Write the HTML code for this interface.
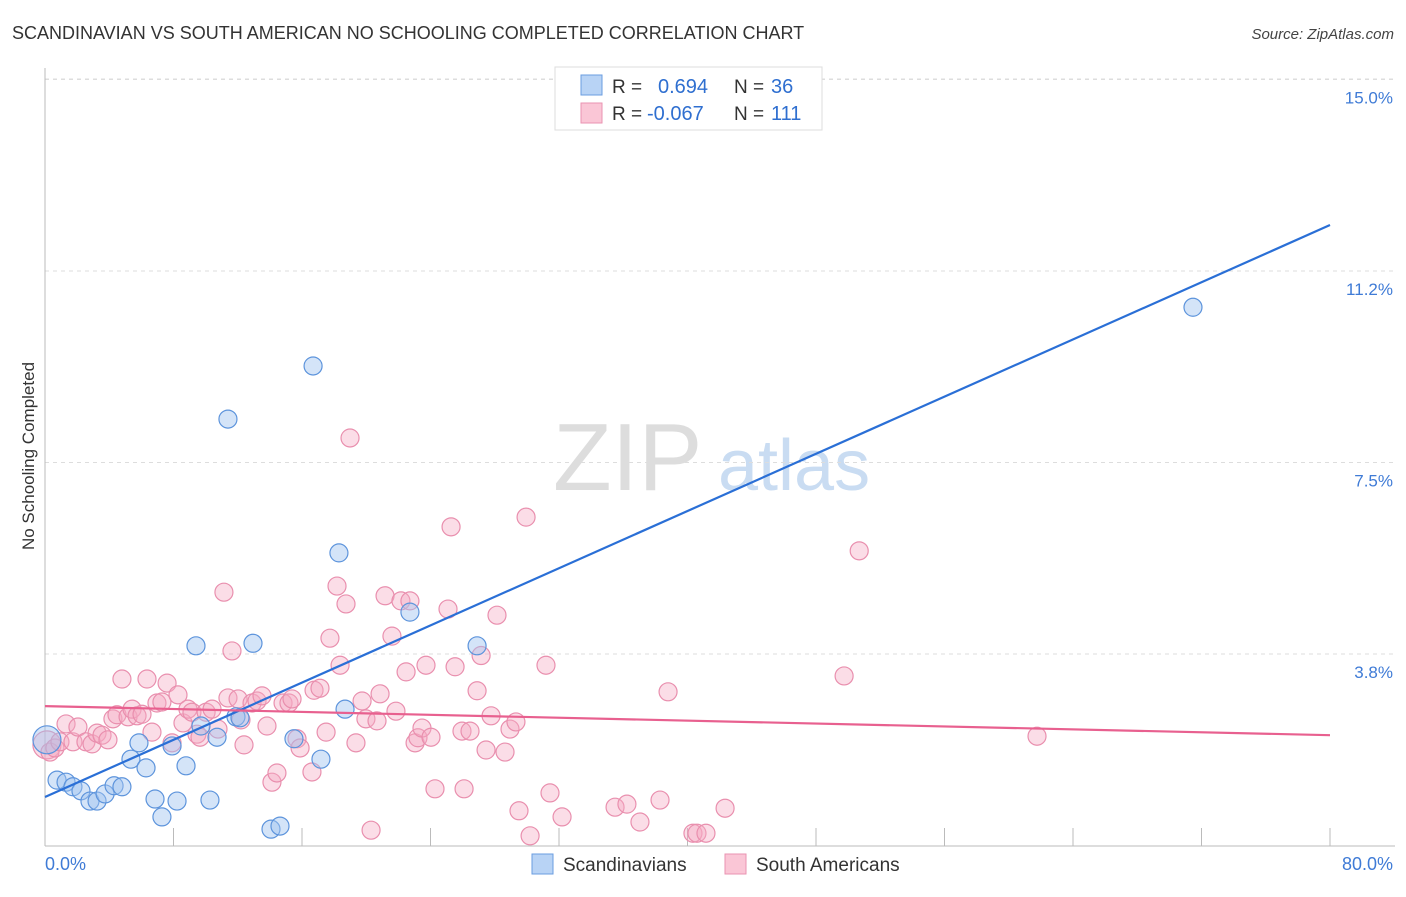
<!DOCTYPE html>
<html><head><meta charset="utf-8"><style>
body{margin:0;background:#fff;font-family:"Liberation Sans",sans-serif;}
svg text{font-family:"Liberation Sans",sans-serif;}
</style></head><body>
<svg id="chart" width="1406" height="892" xmlns="http://www.w3.org/2000/svg">
<text x="12" y="39" font-size="18" fill="#333">SCANDINAVIAN VS SOUTH AMERICAN NO SCHOOLING COMPLETED CORRELATION CHART</text>
<text x="1394" y="39" font-size="15" fill="#444" text-anchor="end" font-style="italic">Source: ZipAtlas.com</text>
<g>
<text x="553" y="490" font-size="96" font-family="Liberation Serif" fill="#ddd">ZIP</text>
<text x="718" y="490" font-size="72" fill="#c9dcf2">atlas</text>
</g>
<g id="grid"></g>
<g id="axes"></g>
<g id="marks"></g>
<text transform="translate(34,456) rotate(-90)" font-size="17" fill="#333" text-anchor="middle">No Schooling Completed</text>
<g>
<rect x="555" y="67" width="267" height="63" fill="#fff" stroke="#ddd"/>
<rect x="581" y="75" width="21" height="20" fill="#b8d3f5" stroke="#6a9de0"/>
<rect x="581" y="103" width="21" height="20" fill="#fac6d6" stroke="#ea93b1"/>
<text x="612" y="93" font-size="19" fill="#333">R =</text>
<text x="658" y="93" font-size="20" fill="#2f6fd0">0.694</text>
<text x="734" y="93" font-size="19" fill="#333">N =</text>
<text x="771" y="93" font-size="20" fill="#2f6fd0">36</text>
<text x="612" y="120" font-size="19" fill="#333">R =</text>
<text x="647" y="120" font-size="20" fill="#2f6fd0">-0.067</text>
<text x="734" y="120" font-size="19" fill="#333">N =</text>
<text x="771" y="120" font-size="20" fill="#2f6fd0">111</text>
</g>
<g>
<rect x="532" y="854" width="21" height="20" fill="#b8d3f5" stroke="#6a9de0"/>
<text x="563" y="871" font-size="19" fill="#333">Scandinavians</text>
<rect x="725" y="854" width="21" height="20" fill="#fac6d6" stroke="#ea93b1"/>
<text x="756" y="871" font-size="19" fill="#333">South Americans</text>
</g>
</svg>
<script>
const yTicks=[3.75,7.5,11.25,15];
const yTickLabels=["3.8%","7.5%","11.2%","15.0%"];
const xTicks=[0,8,16,24,32,40,48,56,64,72,80];
const blueX=[0.12,0.75,1.31,1.74,2.24,2.80,3.24,3.74,4.30,4.79,5.35,5.85,6.29,6.85,7.28,7.91,8.22,8.78,9.40,9.71,10.27,10.71,11.39,11.89,12.14,12.95,14.07,14.63,15.50,16.69,17.18,18.30,18.68,22.72,26.90,71.47];
const blueY=[2.07,1.28,1.24,1.15,1.07,0.87,0.87,1.01,1.17,1.15,1.69,2.01,1.52,0.91,0.56,1.95,0.87,1.56,3.91,2.34,0.89,2.12,8.35,2.52,2.50,3.96,0.32,0.38,2.09,9.39,1.69,5.73,2.67,4.57,3.91,10.54];
const pinkX=[0.12,0.31,0.62,0.93,1.31,1.74,2.05,2.55,2.93,3.24,3.55,3.92,4.23,4.48,4.79,5.17,5.42,5.73,6.04,6.35,6.66,6.97,7.28,7.60,7.91,8.28,8.59,8.90,9.15,9.46,9.65,10.03,10.40,10.77,11.14,11.39,11.64,12.02,12.20,12.39,12.89,13.20,13.51,13.82,14.13,14.44,14.82,15.19,15.38,15.69,15.88,16.62,16.75,17.12,17.50,17.74,18.18,18.37,18.74,18.99,19.36,19.74,19.98,20.30,20.67,20.86,21.17,21.60,21.85,22.16,22.48,22.72,23.04,23.22,23.47,23.72,24.03,24.28,25.09,25.28,25.53,25.96,26.09,26.46,26.90,27.15,27.46,27.77,28.14,28.64,28.95,29.32,29.51,29.95,30.20,31.19,31.44,32.19,35.49,36.23,37.04,38.29,38.79,40.34,40.59,41.15,42.34,49.75,50.69,61.76];
const pinkY=[1.97,1.83,1.91,2.03,2.38,2.03,2.32,2.03,1.99,2.20,2.16,2.07,2.48,2.56,3.26,2.52,2.67,2.54,2.57,3.26,2.22,2.79,2.81,3.18,2.01,2.95,2.40,2.67,2.61,2.18,2.12,2.61,2.67,2.28,4.96,2.89,3.81,2.87,2.46,1.97,2.79,2.83,2.93,2.34,1.24,1.42,2.79,2.79,2.87,2.09,1.91,1.44,3.04,3.08,2.22,4.06,5.08,3.53,4.73,7.98,2.01,2.83,2.48,0.30,2.44,2.97,4.89,4.10,2.63,4.79,3.40,4.79,2.01,2.11,2.30,3.53,2.12,1.11,4.63,6.24,3.50,2.24,1.11,2.24,3.03,3.72,1.87,2.54,4.51,1.83,2.28,2.42,0.68,6.43,0.19,3.53,1.03,0.56,0.75,0.81,0.46,0.89,3.01,0.24,0.24,0.24,0.73,3.32,5.77,2.14];
const blueTrend=[0.95,12.15];
const pinkTrend=[2.73,2.16];
const X0=45,X1=1330,Y0=845.5,YPX=191.5/3.75;
const sx=v=>X0+(X1-X0)*v/80;
const sy=v=>Y0-v*YPX;
const NS="http://www.w3.org/2000/svg";
function mk(t,a,p){const e=document.createElementNS(NS,t);for(const k in a)e.setAttribute(k,a[k]);p.appendChild(e);return e;}
const grid=document.getElementById('grid'),axes=document.getElementById('axes'),marks=document.getElementById('marks');
yTicks.forEach((t,i)=>{
 const l=mk('line',{x1:45,x2:1395,y1:sy(t),y2:sy(t),stroke:'#ddd','stroke-dasharray':'4,4'},grid);
 
 
 const tx=mk('text',{x:1393,y:sy(t)+24,'font-size':17,fill:'#3f7bd6','text-anchor':'end'},axes);
 tx.textContent=yTickLabels[i];
 
 
});
const ty=mk('line',{x1:45,x2:1395,y1:79,y2:79,stroke:'#ddd','stroke-dasharray':'4,4'},grid);


const ya=mk('line',{x1:45,x2:45,y1:68,y2:846,stroke:'#bbb'},axes);


const xa=mk('line',{x1:45,x2:1395,y1:846,y2:846,stroke:'#bbb'},axes);


xTicks.forEach(t=>{
 const l=mk('line',{x1:sx(t),x2:sx(t),y1:828,y2:846,stroke:'#bbb'},axes);
 
 
});
const xl0=mk('text',{x:45,y:870,'font-size':18,fill:'#3f7bd6'},axes);xl0.textContent='0.0%';


const xl1=mk('text',{x:1393,y:870,'font-size':18,fill:'#3f7bd6','text-anchor':'end'},axes);xl1.textContent='80.0%';


function pts(xs,ys,fill,stroke,name){xs.forEach((x,i)=>{
 const r=(i===0)?14:9;
 const c=mk('circle',{cx:sx(x),cy:sy(ys[i]),r:r,fill:fill,stroke:stroke,'stroke-width':1.2},marks);
 
 
});}
pts(pinkX,pinkY,'rgba(246,170,196,0.4)','#e98fae','south-american-point');
pts(blueX,blueY,'rgba(160,196,240,0.45)','#5d94dc','scandinavian-point');
const bl=mk('line',{x1:sx(0),y1:sy(blueTrend[0]),x2:sx(80),y2:sy(blueTrend[1]),stroke:'#2a6fd6','stroke-width':2.2},marks);


const pl=mk('line',{x1:sx(0),y1:sy(pinkTrend[0]),x2:sx(80),y2:sy(pinkTrend[1]),stroke:'#e8608f','stroke-width':2.2},marks);


</script>
</body></html>
